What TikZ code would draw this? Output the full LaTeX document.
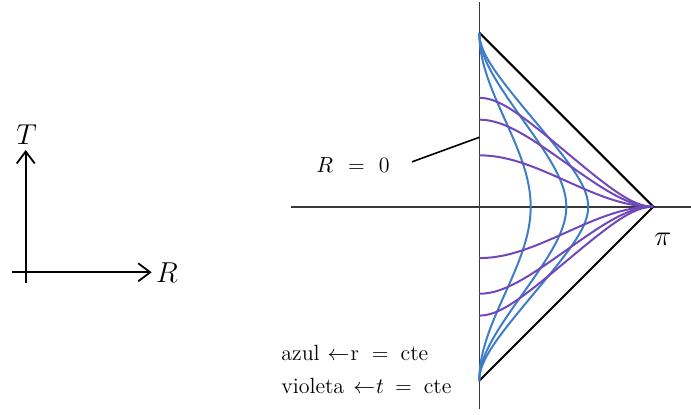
\documentclass[tikz,border=0pt]{standalone}
\usetikzlibrary{arrows.meta}
\definecolor{azul}{RGB}{62,126,198}
\definecolor{violeta}{RGB}{112,72,186}
\begin{document}
\begin{tikzpicture}[x=0.5pt,y=-0.5pt,
  axisline/.style={draw=black!78,line width=0.8pt},
  edge/.style={draw=black,line width=1pt},
  bluecurve/.style={draw=azul,line width=1pt},
  violetcurve/.style={draw=violeta,line width=1pt},
  frame/.style={draw=black,line width=0.9pt,-{Straight Barb[length=6pt,width=9pt,line width=0.9pt]}},
  lbl/.style={inner sep=0pt,font=\fontsize{11}{13}\selectfont},
  biglbl/.style={inner sep=0pt,font=\fontsize{15}{18}\selectfont}]
\useasboundingbox (0,0) rectangle (691,414);
% small frame
\coordinate (fv0) at (25.7,283);
\coordinate (fv1) at (25.7,150);
\coordinate (fh0) at (11.7,272.3);
\coordinate (fh1) at (151.7,272.3);
\draw[frame] (fv0) -- (fv1);
\draw[frame] (fh0) -- (fh1);
\node[biglbl] (Tl) at (26.7,135) {$T$};
\node[biglbl] (Rl) at (167,273) {$R$};
% axes
\coordinate (O) at (479.3,206.7);
\coordinate (hl) at (291,206.7);
\coordinate (hr) at (691,206.7);
\coordinate (vt) at (479.3,2);
\coordinate (vb) at (479.3,409);
\draw[axisline] (hl) -- (hr);
\draw[axisline] (vt) -- (vb);
% Penrose diagram (units: degrees)
\begin{scope}[shift={(O)},x=0.48333pt,y=0.48333pt]
  \coordinate (top) at (0,180);
  \coordinate (bot) at (0,-180);
  \coordinate (right) at (180,0);
  \draw[edge,line join=miter] (top) -- (right) -- (bot);
  \foreach \r in {0.5,1,1.5}{
    \draw[bluecurve] plot[domain=-89.9:89.9,samples=300,variable=\s,smooth]
      ({atan(tan(\s)+\r)-atan(tan(\s)-\r)},{atan(tan(\s)+\r)+atan(tan(\s)-\r)});
  }
  \foreach \t in {1.5,1,0.5,-0.5,-1,-1.5}{
    \draw[violetcurve] plot[domain=0:89.9,samples=200,variable=\s,smooth]
      ({atan(\t+tan(\s))-atan(\t-tan(\s))},{atan(\t+tan(\s))+atan(\t-tan(\s))});
  }
\end{scope}
% labels
\node[lbl] (R0) at (353,165) {$R$\hspace{7.5pt}=\hspace{7pt}0};
\coordinate (R0ax) at (479.3,137.3);
\draw[black,line width=0.8pt] ([xshift=11pt,yshift=1.6pt]R0.east) -- (R0ax);
\node[biglbl] (pi) at (663,239) {$\pi$};
\node[lbl,anchor=base west] (leg1) at (281,360.7) {azul\hspace{4pt}$\leftarrow$\hspace{0.5pt}r\hspace{6.5pt}=\hspace{6pt}cte};
\node[lbl,anchor=base west] (leg2) at (281,393.3) {violeta\hspace{4.5pt}$\leftarrow$\hspace{0.5pt}$t$\hspace{5.5pt}=\hspace{6pt}cte};
\end{tikzpicture}
\end{document}
